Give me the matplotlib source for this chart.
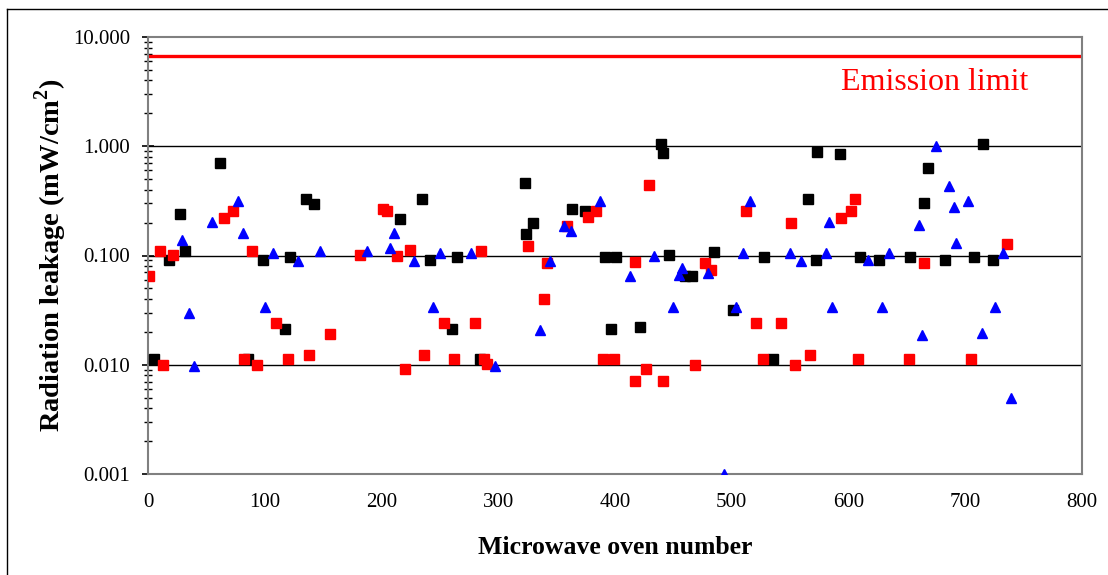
import matplotlib
matplotlib.use("Agg")
import matplotlib.pyplot as plt
from matplotlib.ticker import FixedLocator, LogLocator, NullFormatter
from matplotlib.lines import Line2D

plt.rcParams['font.family'] = ['Liberation Serif', 'DejaVu Serif']
plt.rcParams['mathtext.fontset'] = 'custom'
plt.rcParams['mathtext.rm'] = 'Liberation Serif'
plt.rcParams['mathtext.bf'] = 'Liberation Serif:bold'

# Oven group A (black squares)
black_x = [5, 18, 27.5, 32, 62, 85.5, 98.5, 117, 121.5, 135.5, 142.5, 215.5, 234.5,
           241.5, 260.5, 264.5, 284, 322.5, 324, 329.5, 363.5, 374.5, 391.5, 396.5,
           401, 421, 439.5, 441, 446.5, 460, 466, 484.5, 501, 528, 535, 565, 572,
           573, 592.5, 610, 626.5, 653, 664.5, 668, 683, 707.5, 715, 723.5]
black_y = [0.0112, 0.091, 0.242, 0.11, 0.71, 0.0112, 0.091, 0.0212, 0.096, 0.33,
           0.293, 0.214, 0.33, 0.091, 0.0212, 0.097, 0.0112, 0.46, 0.157, 0.2,
           0.267, 0.256, 0.097, 0.0212, 0.097, 0.0222, 1.05, 0.875, 0.101, 0.065,
           0.065, 0.108, 0.032, 0.097, 0.0112, 0.33, 0.091, 0.893, 0.857, 0.097,
           0.091, 0.097, 0.303, 0.63, 0.091, 0.097, 1.04, 0.091]

# Oven group B (red squares)
red_x = [1, 10.5, 12.5, 21, 65.5, 73, 82, 89.5, 93.5, 110, 120, 137.5, 155.5, 181.5,
         201.5, 204.5, 213, 220.5, 224, 236.5, 253.5, 262.5, 280.5, 285.5, 288, 290.5,
         325.5, 339.5, 342, 358.5, 377, 383.5, 390, 399, 417, 417.5, 426.5, 429,
         441.5, 468.5, 477, 482.5, 512, 521, 527, 542.5, 551, 554, 567, 594,
         602.5, 605.5, 608.5, 652, 665, 705, 735.5]
red_y = [0.065, 0.11, 0.01, 0.102, 0.221, 0.258, 0.0112, 0.11, 0.01, 0.024, 0.0112,
         0.0122, 0.0193, 0.102, 0.264, 0.258, 0.099, 0.0091, 0.112, 0.0122, 0.024,
         0.0112, 0.024, 0.11, 0.0112, 0.0102, 0.122, 0.04, 0.086, 0.186, 0.225,
         0.258, 0.0112, 0.0112, 0.0875, 0.0071, 0.0091, 0.44, 0.0071, 0.01, 0.086,
         0.074, 0.258, 0.024, 0.0112, 0.024, 0.2, 0.01, 0.0122, 0.222, 0.258, 0.33,
         0.0112, 0.0112, 0.0856, 0.0112, 0.128]

# Oven group C (blue triangles)
blue_x = [29.5, 35.5, 39, 55, 77, 81.5, 100.5, 107, 128.5, 147.5, 188, 207, 210.5,
          227.5, 244, 250, 276.5, 297, 335.5, 344.5, 356, 362, 387, 413, 433.5,
          449.5, 455, 457.5, 480, 493, 504, 510, 515.5, 549.5, 559, 580.5, 583.5,
          586, 617, 628.5, 635, 660, 663, 675, 686, 690, 692, 702.5, 714.5, 725.5,
          732, 739.5]
blue_y = [0.138, 0.030, 0.0098, 0.203, 0.314, 0.162, 0.034, 0.105, 0.089, 0.11, 0.11,
          0.118, 0.162, 0.089, 0.034, 0.106, 0.106, 0.0098, 0.021, 0.089, 0.186,
          0.167, 0.314, 0.065, 0.1, 0.034, 0.066, 0.077, 0.069, 0.001, 0.034, 0.106,
          0.314, 0.106, 0.089, 0.106, 0.203, 0.034, 0.091, 0.034, 0.106, 0.192,
          0.0189, 1.0, 0.433, 0.278, 0.13, 0.316, 0.0196, 0.034, 0.106, 0.005]

emission_limit = 6.7
y_ticks = [0.001, 0.01, 0.1, 1, 10]
y_tick_labels = ['0.001', '0.010', '0.100', '1.000', '10.000']
x_ticks = [0, 100, 200, 300, 400, 500, 600, 700, 800]

fig = plt.figure(figsize=(11.08, 5.75), dpi=100)
ax = fig.add_axes([148 / 1108, 1 - 474 / 575, (1082 - 148) / 1108, (474 - 37) / 575])

ax.set_yscale('log')
ax.set_xlim(0, 800)
ax.set_ylim(0.001, 10)

for v in [0.01, 0.1, 1]:
    ax.axhline(v, color='black', lw=1.0, zorder=1)

ax.axhline(emission_limit, color='#ff0000', lw=2.4, zorder=2)
ax.text(674, 3.87, 'Emission limit', color='#ff0000',
        fontsize=23, ha='center', va='center')

ax.plot(black_x, black_y, ls='none', marker='s', ms=6.6, color='black',
        mec='black', zorder=3)
ax.plot(red_x, red_y, ls='none', marker='s', ms=6.6, color='#ff0000',
        mec='#ff0000', zorder=3)
ax.plot(blue_x, blue_y, ls='none', marker='^', ms=7.5, color='#0000ff',
        mec='#0000ff', zorder=3)

ax.yaxis.set_major_locator(FixedLocator(y_ticks))
ax.set_yticklabels(y_tick_labels)
ax.yaxis.set_minor_locator(LogLocator(base=10, subs=range(2, 10)))
ax.yaxis.set_minor_formatter(NullFormatter())
ax.set_xticks(x_ticks)
ax.set_xticklabels([str(t) for t in x_ticks])

ax.tick_params(axis='y', which='major', direction='inout', length=8, width=1.2,
               labelsize=15, pad=9, colors='black')
ax.tick_params(axis='y', which='minor', direction='inout', length=6, width=1.0)
ax.tick_params(axis='x', which='major', length=0, labelsize=15, pad=14)

for side in ['left', 'right', 'top', 'bottom']:
    ax.spines[side].set_color('#808080')
    ax.spines[side].set_linewidth(1.5)

ax.set_xlabel('Microwave oven number', fontsize=18.5, fontweight='bold', labelpad=17)
ax.set_ylabel(r'Radiation leakage (mW/cm$^{\mathbf{2}}$)', fontsize=20.5,
              fontweight='bold', labelpad=3)

# outer frame (left and top edges)
fig.add_artist(Line2D([7 / 1108, 7 / 1108], [0, 1 - 9 / 575], color='black',
                      lw=1.0, transform=fig.transFigure))
fig.add_artist(Line2D([7 / 1108, 1], [1 - 9 / 575, 1 - 9 / 575], color='black',
                      lw=1.0, transform=fig.transFigure))

fig.savefig('out.png', dpi=100, facecolor='white')
